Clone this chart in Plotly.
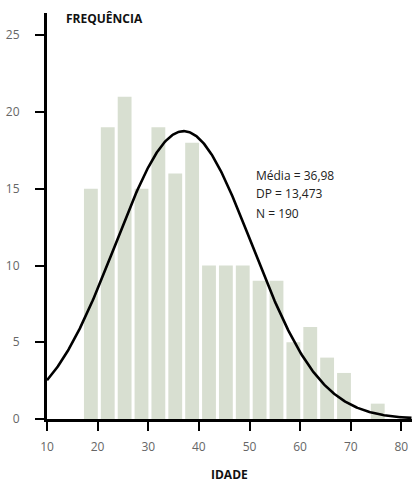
import numpy as np
import plotly.graph_objects as go

# Histogram data (age bins of width 10/3 starting at 17)
bin_start = 17.0
bin_width = 10.0 / 3.0
counts = [15, 19, 21, 15, 19, 16, 18, 10, 10, 10, 9, 9, 5, 6, 4, 3, 0, 1]
x_ticks = [10, 20, 30, 40, 50, 60, 70, 80]
y_ticks = [0, 5, 10, 15, 20, 25]
mean_age = 36.98
sd_age = 13.473
n_total = 190
stats_lines = ["Média = 36,98", "DP = 13,473", "N = 190"]

centers = [bin_start + bin_width * (i + 0.5) for i in range(len(counts))]

xc = np.linspace(10, 82, 400)
yc = n_total * bin_width / (sd_age * np.sqrt(2 * np.pi)) * np.exp(-0.5 * ((xc - mean_age) / sd_age) ** 2)

fig = go.Figure()
fig.add_trace(go.Bar(x=centers, y=counts, width=bin_width * 0.82,
                     marker=dict(color="#d8dfd1", line=dict(width=0)),
                     hoverinfo="skip"))
fig.add_trace(go.Scatter(x=xc, y=yc, mode="lines",
                         line=dict(color="black", width=2.6), hoverinfo="skip"))

fig.update_layout(
    width=412, height=484,
    margin=dict(l=47, r=0, t=13, b=65),
    paper_bgcolor="white", plot_bgcolor="white",
    showlegend=False,
    font=dict(family="Open Sans", size=12, color="#222"),
    xaxis=dict(range=[10, 82.1], tickvals=x_ticks, showgrid=False, zeroline=False,
               showline=True, linecolor="black", linewidth=3,
               ticks="outside", ticklen=9, tickwidth=2, tickcolor="black",
               tickfont=dict(size=12, color="#666"), ticklabelstandoff=6,
               automargin=False),
    yaxis=dict(range=[0, 26.45], tickvals=y_ticks, showgrid=False, zeroline=False,
               showline=True, linecolor="black", linewidth=3,
               ticks="outside", ticklen=9, tickwidth=2, tickcolor="black",
               tickfont=dict(size=12, color="#666"), ticklabelstandoff=13,
               automargin=False),
)

fig.add_annotation(text="<b>FREQUÊNCIA</b>", xref="paper", yref="paper",
                   x=0.047, y=1.0, xanchor="left", yanchor="middle", yshift=-5,
                   showarrow=False, font=dict(size=12, color="#111"))
fig.add_annotation(text="<b>IDADE</b>", xref="paper", yref="paper",
                   x=0.5, y=0, xanchor="center", yanchor="middle", yshift=-55,
                   showarrow=False, font=dict(size=12, color="#111"))
for i, t in enumerate(stats_lines):
    fig.add_annotation(text=t, xref="paper", yref="paper",
                       x=(254 - 47) / 365, y=1 - (175 - 13 + i * 19) / 406,
                       xanchor="left", yanchor="middle", showarrow=False,
                       font=dict(size=12, color="#222"))

fig.write_html("out.html", config={"displayModeBar": False},
               post_script="document.body.style.margin='0';")
